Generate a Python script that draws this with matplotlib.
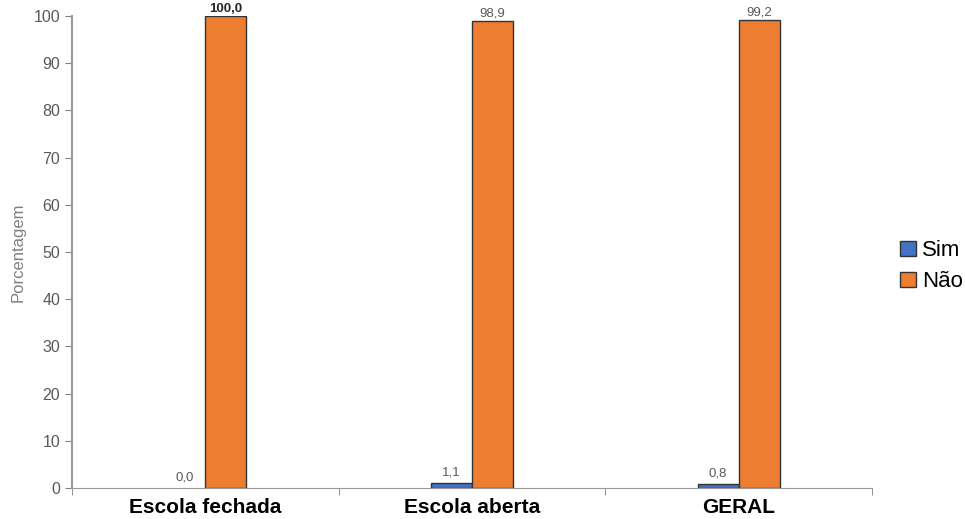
import numpy as np
import matplotlib
import matplotlib.pyplot as plt
matplotlib.use('Agg')

categorias = ['Escola fechada', 'Escola aberta', 'GERAL']
sim = [0.0, 1.1, 0.8]
nao = [100.0, 98.9, 99.2]

plt.rcParams['font.family'] = ['Liberation Sans', 'DejaVu Sans']

fig = plt.figure(figsize=(9.65, 5.19), dpi=100)
ax = fig.add_axes([0.0746, 0.0597, 0.829, 0.9095])

x = np.arange(len(categorias))
w = 0.154

b1 = ax.bar(x - w / 2, sim, w, color='#4472C4', edgecolor='#333333',
            linewidth=1, label='Sim')
b2 = ax.bar(x + w / 2, nao, w, color='#ED7D31', edgecolor='#333333',
            linewidth=1, label='Não')

def fmt(v):
    return ('%.1f' % v).replace('.', ',')

for rect, v in zip(b1, sim):
    ax.text(rect.get_x() + rect.get_width() / 2, v + 1, fmt(v),
            ha='center', va='bottom', fontsize=9.5, color='#595959')
for rect, v in zip(b2, nao):
    bold = v >= 100
    ax.text(rect.get_x() + rect.get_width() / 2, v + 0.3, fmt(v),
            ha='center', va='bottom', fontsize=9.5,
            color='#262626' if bold else '#595959',
            fontweight='bold' if bold else 'normal')

ax.set_xlim(-0.5, 2.5)
ax.set_ylim(0, 100)
ax.set_yticks(range(0, 101, 10))
ax.set_xticks(x)
ax.set_xticklabels(categorias, fontsize=15, fontweight='bold', color='black')
ax.tick_params(axis='x', length=0, pad=7)
ax.set_xticks([-0.5, 0.5, 1.5, 2.5], minor=True)
ax.tick_params(axis='x', which='minor', length=5, color='#808080')
ax.tick_params(axis='y', labelsize=11.5, labelcolor='#595959', color='#808080',
               length=5, direction='out')

for s in ['top', 'right']:
    ax.spines[s].set_visible(False)
ax.spines['left'].set_color('#999999')
ax.spines['bottom'].set_color('#999999')
ax.spines['left'].set_linewidth(1.5)

ax.set_ylabel('Porcentagem', fontsize=12, color='#808080')
ax.yaxis.set_label_coords(-0.058, 0.5)

ax.legend(loc='center left', bbox_to_anchor=(1.01, 0.47), frameon=False,
          fontsize=16, handlelength=0.7, handleheight=0.7, handletextpad=0.3,
          labelspacing=0.45)

# zero-height bars show no outline
for rect, v in zip(b1, sim):
    if v == 0:
        rect.set_linewidth(0)

plt.savefig('out.png')
